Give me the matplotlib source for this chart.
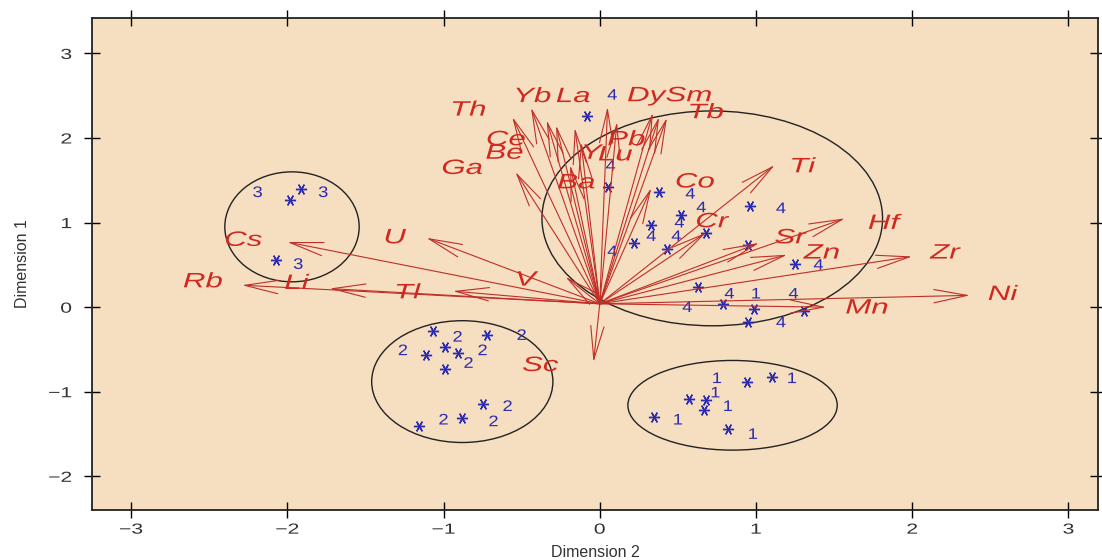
import numpy as np
import matplotlib
matplotlib.use("Agg")
import matplotlib.pyplot as plt
import matplotlib.patheffects as pe
from matplotlib.patches import Ellipse
from matplotlib.transforms import Affine2D

# element loadings (arrow tips) and where their names sit
elements = ["Ni", "Mn", "Zr", "Zn", "Sr", "Hf", "Ti", "Cr", "Co", "Tb", "Sm", "Dy",
            "Lu", "La", "Pb", "Y", "Ba", "Be", "Ce", "Yb", "Th", "Ga",
            "V", "U", "Tl", "Li", "Cs", "Rb", "Sc"]
tip_x = [2.37, 1.45, 2.00, 1.20, 1.02, 1.57, 1.12, 0.68, 0.33, 0.43, 0.38, 0.34,
         0.11, 0.05, -0.12, -0.16, -0.19, -0.28, -0.34, -0.44, -0.56, -0.54,
         -0.22, -1.11, -0.94, -1.73, -2.00, -2.29, -0.04]
tip_y = [0.14, 0.00, 0.60, 0.62, 0.76, 1.05, 1.68, 0.88, 1.41, 2.24, 2.25, 2.30,
         2.19, 2.37, 1.95, 2.12, 1.68, 2.15, 2.21, 2.36, 2.25, 1.60,
         0.36, 0.82, 0.19, 0.22, 0.77, 0.26, -0.65]
name_x = [2.58, 1.71, 2.21, 1.42, 1.22, 1.82, 1.30, 0.72, 0.61, 0.68, 0.57, 0.30,
          0.10, -0.17, 0.17, -0.05, -0.15, -0.61, -0.60, -0.43, -0.84, -0.88,
          -0.47, -1.31, -1.23, -1.94, -2.28, -2.54, -0.38]
name_y = [0.15, -0.01, 0.64, 0.64, 0.82, 0.99, 1.66, 1.01, 1.48, 2.30, 2.50, 2.50,
          1.80, 2.49, 1.98, 1.82, 1.47, 1.82, 1.98, 2.49, 2.33, 1.64,
          0.32, 0.82, 0.17, 0.28, 0.79, 0.30, -0.69]

# sample scores (asterisks)
samp_x = [-1.91, -1.98, -2.07,
          -1.07, -0.72, -0.99, -1.11, -0.91, -0.99, -0.75, -0.88, -1.16,
          0.94, 1.10, 0.57, 0.68, 0.67, 0.35, 0.82,
          -0.08, 0.05, 0.38, 0.52, 0.33, 0.22, 0.43, 0.68, 0.96, 0.95, 1.25,
          0.63, 0.79, 0.99, 1.31, 0.95]
samp_y = [1.40, 1.27, 0.56,
          -0.28, -0.33, -0.47, -0.57, -0.54, -0.73, -1.14, -1.31, -1.41,
          -0.89, -0.83, -1.09, -1.10, -1.22, -1.30, -1.44,
          2.26, 1.42, 1.36, 1.09, 0.97, 0.76, 0.69, 0.88, 1.20, 0.73, 0.51,
          0.24, 0.04, -0.02, -0.05, -0.18]

# group numbers written beside the samples
grp_text = ["3", "3", "3",
            "2", "2", "2", "2", "2", "2", "2", "2",
            "1", "1", "1", "1", "1", "1",
            "4", "4", "4", "4", "4", "4", "4", "4", "4", "4", "4", "4", "4", "4", "1"]
grp_x = [-2.19, -1.77, -1.93,
         -0.91, -0.50, -1.26, -0.75, -0.84, -0.59, -1.00, -0.68,
         0.75, 1.23, 0.74, 0.82, 0.50, 0.98,
         0.08, 0.07, 0.58, 0.65, 0.51, 0.33, 0.49, 0.08, 1.16, 1.40, 0.83, 1.24, 0.56, 1.16, 1.00]
grp_y = [1.35, 1.35, 0.50,
         -0.36, -0.34, -0.52, -0.52, -0.67, -1.18, -1.34, -1.36,
         -0.85, -0.85, -1.02, -1.18, -1.34, -1.51,
         2.50, 1.66, 1.33, 1.17, 0.99, 0.83, 0.83, 0.65, 1.16, 0.49, 0.15, 0.15, -0.01, -0.19, 0.15]

# cluster outlines
ell_cx = [0.85, -0.88, -1.97, 0.72]
ell_cy = [-1.16, -0.88, 0.95, 1.05]
ell_w = [1.34, 1.16, 0.86, 2.18]
ell_h = [1.06, 1.44, 1.30, 2.54]

origin = (0.0, 0.04)


class Stretch(pe.AbstractPathEffect):
    # the original device drew its letters wide; widen the glyphs in place
    def __init__(self, sx, anchor="center"):
        super().__init__()
        self.sx = sx
        self.anchor = anchor

    def draw_path(self, renderer, gc, tpath, affine, rgbFace=None):
        bb = tpath.get_extents(affine)
        x0 = bb.x1 if self.anchor == "right" else 0.5 * (bb.x0 + bb.x1)
        t = affine + Affine2D().translate(-x0, 0).scale(self.sx, 1).translate(x0, 0)
        renderer.draw_path(gc, tpath, t, rgbFace)


fig = plt.figure(figsize=(11.02, 5.6), dpi=100)
ax = fig.add_axes([0.0835, 0.089, 0.913, 0.879])
ax.set_facecolor("#f6dec0")
ax.set_xlim(-3.25, 3.19)
ax.set_ylim(-2.40, 3.42)

for cx, cy, w, h in zip(ell_cx, ell_cy, ell_w, ell_h):
    ax.add_patch(Ellipse((cx, cy), w, h, fill=False, edgecolor="#222222", lw=1.0, zorder=2))

ax.plot(samp_x, samp_y, linestyle="none", marker=(6, 2, 90), markersize=8,
        markeredgewidth=1.0, color="#2b2bb0", zorder=3)
for t, x, y in zip(grp_text, grp_x, grp_y):
    ax.text(x, y, t, color="#2b2bb0", fontsize=11, ha="center", va="center",
            family="Liberation Sans", zorder=3, path_effects=[Stretch(1.2)])

for name, tx, ty, lx, ly in zip(elements, tip_x, tip_y, name_x, name_y):
    ax.annotate("", xy=(tx, ty), xytext=origin,
                arrowprops=dict(arrowstyle="->,head_length=1.2,head_width=0.24",
                                color="#bf2f28", lw=0.8, shrinkA=0, shrinkB=0,
                                mutation_scale=20), zorder=4)
    ax.text(lx, ly, name, color="#d02a20", fontsize=15, style="italic",
            ha="center", va="center", family="Liberation Sans", zorder=5,
            path_effects=[Stretch(1.5)])

ax.set_xticks([-3, -2, -1, 0, 1, 2, 3])
ax.set_yticks([-2, -1, 0, 1, 2, 3])
ax.tick_params(direction="inout", length=11, width=1.0, top=True, right=True,
               labelsize=10.5, labelcolor="#333333")
ax.tick_params(axis="y", pad=9)
for lab in ax.get_xticklabels():
    lab.set_family("Liberation Sans")
    lab.set_path_effects([Stretch(1.45)])
for lab in ax.get_yticklabels():
    lab.set_family("Liberation Sans")
    lab.set_path_effects([Stretch(1.45, anchor="right")])
for sp in ax.spines.values():
    sp.set_linewidth(1.3)
    sp.set_color("#222222")

ax.set_xlabel("Dimension 2", fontsize=11.5, family="Liberation Sans", color="#333333", labelpad=6)
ax.set_ylabel("Dimension 1", fontsize=11.5, family="Liberation Sans", color="#333333", labelpad=18)

fig.savefig("out.png", dpi=100)
